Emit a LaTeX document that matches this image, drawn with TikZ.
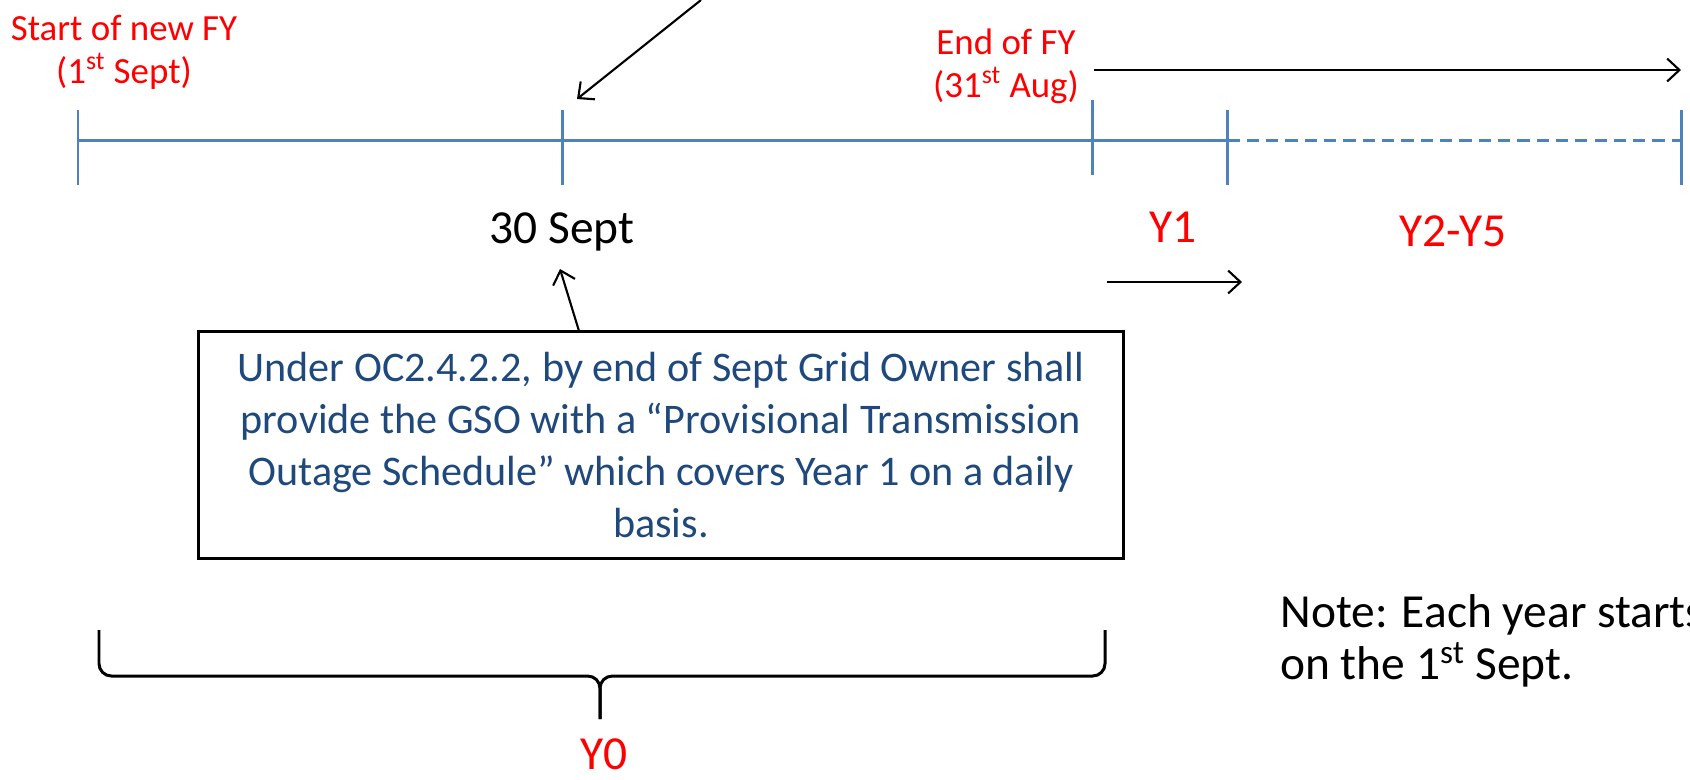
\documentclass[tikz,border=0pt]{standalone}
\usepackage{fontspec}
\setmainfont{Carlito}
\usetikzlibrary{positioning, arrows.meta}
\definecolor{lineblue}{RGB}{79, 129, 189}
\definecolor{textblue}{RGB}{31, 73, 125}
\definecolor{fyred}{RGB}{255, 0, 0}

\begin{document}
\begin{tikzpicture}[x=0.02cm, y=-0.02cm,
    >={Straight Barb[length=7pt, width=13pt]},
    tick/.style={draw=lineblue, line width=1.7pt},
    redlabel/.style={text=fyred, align=center, inner sep=0pt,
                     font=\fontsize{21}{24.5}\selectfont},
    yearlabel/.style={text=fyred, inner sep=0pt,
                      font=\fontsize{27}{32}\selectfont},
    arrowline/.style={->, line width=1.2pt},
    infobox/.style={draw, line width=1.7pt, text=textblue, align=center,
                    minimum width=18.5cm, minimum height=4.54cm,
                    font=\fontsize{24}{29.5}\selectfont}]
  \useasboundingbox (0,0) rectangle (1690,779);

  % timeline
  \coordinate (t0) at (78,140);
  \coordinate (t1) at (562,140);
  \coordinate (t2) at (1092,140);
  \coordinate (t3) at (1227,140);
  \coordinate (t4) at (1681,140);
  \draw[tick] (t0) -- (t3);
  \draw[tick, dash pattern=on 7pt off 4pt] (t2) -- (t4);
  \foreach \tx in {78, 562, 1227, 1681}
    \draw[tick] (\tx,110) -- (\tx,185);
  \draw[tick] (1092,100) -- (1092,175);

  % labels on the timeline
  \node[redlabel] (start) at (124,52) {Start of new FY\\(1\textsuperscript{st} Sept)};
  \node[redlabel] (endfy) at (1006,66) {End of FY\\(31\textsuperscript{st} Aug)};
  \node[font=\fontsize{27}{32}\selectfont, inner sep=0pt] (sept) at (562,232) {30 Sept};
  \node[yearlabel] (y1) at (1173,227) {Y1};
  \node[yearlabel] (y25) at (1453,231) {Y2-Y5};

  % arrows
  \coordinate (topin) at (701,0);
  \coordinate (septtick) at (577,99);
  \draw[arrowline] (topin) -- (septtick);
  \coordinate (fystart) at (1094,70);
  \coordinate (fyend) at (1681,70);
  \draw[arrowline] (fystart) -- (fyend);
  \coordinate (y1start) at (1107,282);
  \coordinate (y1end) at (1242,282);
  \draw[arrowline] (y1start) -- (y1end);

  % the OC2.4.2.2 box
  \node[infobox] (box) at (661,445)
    {Under OC2.4.2.2, by end of Sept Grid Owner shall\\
     provide the GSO with a “Provisional Transmission\\
     Outage Schedule” which covers Year 1 on a daily\\
     basis.};
  \coordinate (boxtop) at (579,331);
  \coordinate (septbelow) at (560,269);
  \draw[arrowline] (boxtop) -- (septbelow);

  % brace over Y0
  \coordinate (bl) at (99,630);
  \coordinate (br) at (1105,630);
  \coordinate (btip) at (600,719);
  \draw[line width=1.7pt, rounded corners=7pt]
    (bl) -- (99,676) -- (600,676) -- (btip);
  \draw[line width=1.7pt, rounded corners=7pt]
    (br) -- (1105,676) -- (600,676) -- (btip);
  \node[yearlabel] (y0) at (604,754) {Y0};

  % note
  \node[anchor=north west, align=left, inner sep=0pt,
        font=\fontsize{27}{29.5}\selectfont] (note) at (1280,594)
    {Note: Each year starts\\on the 1\textsuperscript{st} Sept.};
\end{tikzpicture}
\end{document}
